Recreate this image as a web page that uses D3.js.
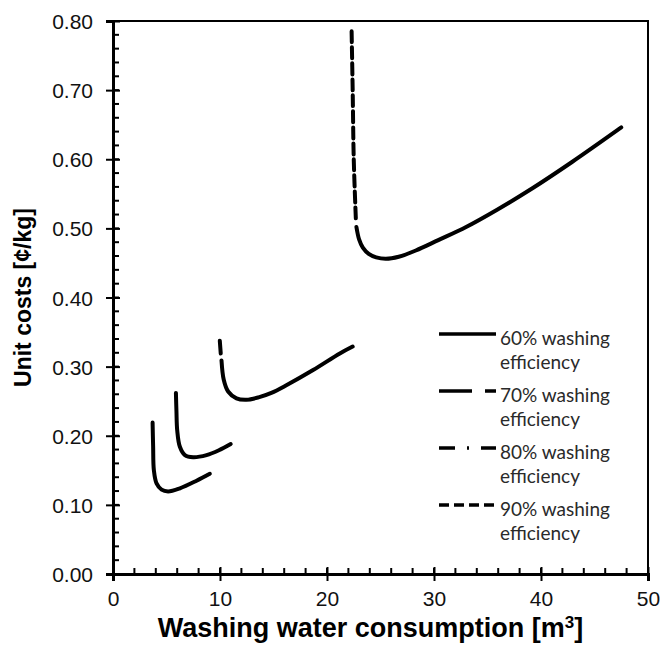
<!DOCTYPE html>
<html>
<head>
<meta charset="utf-8">
<script src="https://cdn.jsdelivr.net/npm/d3@7"></script>
<style>
  body { margin: 0; background: #fff; }
  svg { display: block; }
</style>
</head>
<body>
<script>
var width = 662;
var height = 645;
var margin = {top: 21, right: 14, bottom: 71, left: 113};

// curves: [water m3, unit cost]
var curve60 = [[3.70, 0.219], [3.75, 0.185], [3.82, 0.150], [4.07, 0.131], [4.54, 0.122], [5.15, 0.1195], [6.25, 0.124], [7.81, 0.135], [9.05, 0.145]];
var curve70 = [[5.88, 0.262], [5.93, 0.235], [6.0, 0.208], [6.25, 0.184], [6.72, 0.172], [7.49, 0.169], [8.74, 0.172], [9.9, 0.179], [11.0, 0.188]];
var curve80Head = [[9.98, 0.3375], [10.07, 0.319]];
var curve80 = [[10.14, 0.309], [10.35, 0.281], [10.76, 0.264], [11.54, 0.254], [12.47, 0.252], [13.6, 0.2555], [14.8, 0.262], [16.2, 0.273], [18.7, 0.295], [21.2, 0.319], [22.4, 0.329]];
var curve90Head = [[22.3, 0.785], [22.4, 0.70], [22.5, 0.60], [22.7, 0.512]];
var curve90 = [[22.75, 0.502], [23.0, 0.484], [23.35, 0.472], [23.9, 0.463], [24.6, 0.458], [25.5, 0.456], [26.7, 0.459], [28.3, 0.468], [30.4, 0.483], [33.0, 0.502], [35.9, 0.527], [39.2, 0.558], [42.9, 0.596], [47.5, 0.646]];

var legendLabels = ['60% washing', '70% washing', '80% washing', '90% washing'];
var legendDashes = ['none', '33,13', '16,12,2,12', '10,5'];

var xTicks = [0, 10, 20, 30, 40, 50];
var yTicks = [0, 0.1, 0.2, 0.3, 0.4, 0.5, 0.6, 0.7, 0.8];

var x = d3.scaleLinear().domain([0, 50]).range([margin.left, width - margin.right]);
var y = d3.scaleLinear().domain([0, 0.8]).range([height - margin.bottom, margin.top]);

var svg = d3.select('body').append('svg')
  .attr('width', width)
  .attr('height', height);

// frame (top + right)
svg.append('path')
  .attr('d', 'M' + x(0) + ',' + y(0.8) + 'H' + x(50) + 'V' + y(0))
  .attr('fill', 'none')
  .attr('stroke', '#000')
  .attr('stroke-width', 2);

// minor ticks, pointing inside
var xMinor = d3.range(0, 50.01, 2);
var yMinor = d3.range(0, 0.801, 0.02);

svg.append('g').selectAll('line').data(xMinor).enter().append('line')
  .attr('x1', function(d) { return x(d); })
  .attr('x2', function(d) { return x(d); })
  .attr('y1', y(0))
  .attr('y2', y(0) - 6)
  .attr('stroke', '#000').attr('stroke-width', 2);

svg.append('g').selectAll('line').data(yMinor).enter().append('line')
  .attr('x1', x(0))
  .attr('x2', x(0) + 6)
  .attr('y1', function(d) { return y(d); })
  .attr('y2', function(d) { return y(d); })
  .attr('stroke', '#000').attr('stroke-width', 2);

// axes with major ticks crossing the line
var xAxis = svg.append('g')
  .attr('transform', 'translate(0,' + y(0) + ')')
  .call(d3.axisBottom(x).tickValues(xTicks).tickSize(7).tickPadding(10).tickFormat(d3.format('d')));
xAxis.selectAll('.tick line').attr('y1', -7).attr('stroke-width', 2);

var yAxis = svg.append('g')
  .attr('transform', 'translate(' + x(0) + ',0)')
  .call(d3.axisLeft(y).tickValues(yTicks).tickSize(7).tickPadding(13).tickFormat(d3.format('.2f')));
yAxis.selectAll('.tick line').attr('x1', 7).attr('stroke-width', 2);

[xAxis, yAxis].forEach(function(a) {
  a.select('.domain').attr('stroke-width', 3);
  a.selectAll('.tick text')
    .attr('fill', '#111')
    .style('font-family', '"Liberation Sans", Arial, sans-serif')
    .style('font-size', '21px');
});
yAxis.selectAll('.tick text').attr('dy', '0.36em');

// curves
var line = d3.line()
  .x(function(d) { return x(d[0]); })
  .y(function(d) { return y(d[1]); })
  .curve(d3.curveCatmullRom.alpha(0.5));

var curves = [
  {data: curve60, dash: 'none'},
  {data: curve70, dash: 'none'},
  {data: curve80Head, dash: 'none'},
  {data: curve80, dash: 'none'},
  {data: curve90Head, dash: '11,5'},
  {data: curve90, dash: 'none'}
];

svg.append('g').selectAll('path').data(curves).enter().append('path')
  .attr('d', function(d) { return line(d.data); })
  .attr('fill', 'none')
  .attr('stroke', '#000')
  .attr('stroke-width', 4)
  .attr('stroke-linecap', 'round')
  .attr('stroke-dasharray', function(d) { return d.dash; });

// legend
var legend = svg.append('g').selectAll('g').data(legendLabels).enter().append('g')
  .attr('transform', function(d, i) { return 'translate(439,' + (334 + i * 57) + ')'; });

legend.append('line')
  .attr('x1', 0).attr('x2', 57)
  .attr('y1', 0).attr('y2', 0)
  .attr('stroke', '#000')
  .attr('stroke-width', 3.5)
  .attr('stroke-dasharray', function(d, i) { return legendDashes[i]; });

legend.append('text')
  .attr('x', 61).attr('y', 4).attr('dy', '0.35em')
  .style('font-family', 'Lato, "Open Sans", sans-serif')
  .style('font-size', '19px')
  .attr('fill', '#2a2a2a')
  .text(function(d) { return d; });

legend.append('text')
  .attr('x', 61).attr('y', 28).attr('dy', '0.35em')
  .style('font-family', 'Lato, "Open Sans", sans-serif')
  .style('font-size', '19px')
  .attr('fill', '#2a2a2a')
  .text('efficiency');

// axis titles
svg.append('text')
  .attr('x', (x(0) + x(50)) / 2 - 10)
  .attr('y', 637)
  .attr('text-anchor', 'middle')
  .style('font-family', '"Liberation Sans", Arial, sans-serif')
  .style('font-size', '27px')
  .style('font-weight', 'bold')
  .html('Washing water consumption [m<tspan dy="-9" font-size="17px">3</tspan><tspan dy="9">]</tspan>');

svg.append('text')
  .attr('transform', 'translate(31,' + y(0.4) + ') rotate(-90)')
  .attr('text-anchor', 'middle')
  .style('font-family', '"Liberation Sans", Arial, sans-serif')
  .style('font-size', '23px')
  .style('font-weight', 'bold')
  .text('Unit costs [¢/kg]');
</script>
</body>
</html>
